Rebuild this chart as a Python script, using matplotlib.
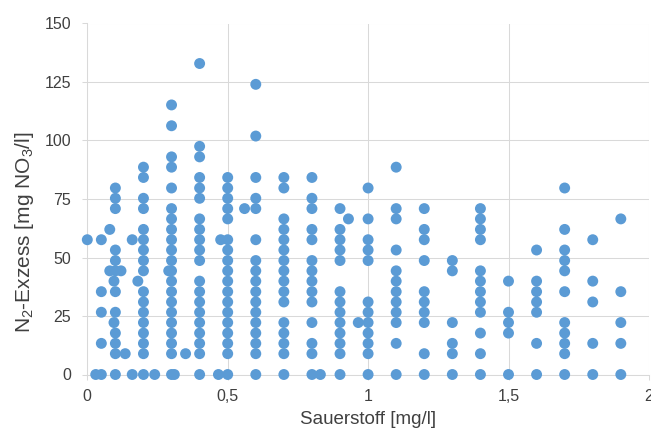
import matplotlib
matplotlib.use("Agg")
import matplotlib.pyplot as plt

plt.rcParams['font.family'] = ['Liberation Sans', 'DejaVu Sans']
plt.rcParams['mathtext.fontset'] = 'custom'
plt.rcParams['mathtext.rm'] = 'Liberation Sans'
plt.rcParams['mathtext.it'] = 'Liberation Sans'

# Oxygen (x) positions of each column of points
oxygen_cols = [0.0, 0.03, 0.05, 0.08, 0.095, 0.1, 0.12, 0.135, 0.16, 0.18,
               0.2, 0.24, 0.29, 0.3, 0.31, 0.35, 0.4, 0.467, 0.475, 0.5,
               0.56, 0.6, 0.7, 0.8, 0.83, 0.9, 0.93, 0.965, 1.0, 1.1,
               1.2, 1.3, 1.4, 1.5, 1.6, 1.7, 1.8, 1.9]

# N2 excess values (mg NO3/l) for each column
excess_cols = [
    [57.6],
    [0],
    [57.6, 35.4, 26.6, 13.3, 0],
    [62.0, 44.3],
    [39.9, 22.2],
    [79.7, 75.3, 70.9, 53.2, 48.7, 44.3, 35.4, 26.6, 17.7, 13.3, 8.9, 0],
    [44.3],
    [8.9],
    [57.6, 0],
    [39.9],
    [88.6, 84.2, 75.3, 70.9, 62.0, 57.6, 53.2, 48.7, 44.3, 35.4, 31.0, 26.6,
     22.2, 17.7, 13.3, 8.9, 0],
    [0],
    [44.3],
    [115.2, 106.3, 93.0, 88.6, 79.7, 70.9, 66.5, 62.0, 57.6, 53.2, 48.7, 44.3,
     39.9, 35.4, 31.0, 26.6, 22.2, 17.7, 13.3, 8.9, 0],
    [0],
    [8.9],
    [132.9, 97.5, 93.0, 84.2, 79.7, 75.3, 66.5, 62.0, 57.6, 53.2, 48.7, 39.9,
     35.4, 31.0, 26.6, 22.2, 17.7, 13.3, 8.9, 0],
    [0],
    [57.6],
    [84.2, 79.7, 75.3, 70.9, 66.5, 57.6, 53.2, 48.7, 44.3, 39.9, 35.4, 31.0,
     26.6, 22.2, 17.7, 13.3, 8.9, 0],
    [70.9],
    [124.0, 101.9, 84.2, 75.3, 70.9, 57.6, 48.7, 44.3, 39.9, 35.4, 31.0, 26.6,
     22.2, 17.7, 13.3, 8.9, 0],
    [84.2, 79.7, 66.5, 62.0, 57.6, 53.2, 48.7, 44.3, 39.9, 35.4, 31.0, 22.2,
     17.7, 13.3, 8.9, 0],
    [84.2, 75.3, 70.9, 62.0, 57.6, 48.7, 44.3, 39.9, 35.4, 31.0, 22.2, 13.3,
     8.9, 0],
    [0],
    [70.9, 62.0, 57.6, 53.2, 48.7, 35.4, 31.0, 26.6, 22.2, 17.7, 13.3, 8.9, 0],
    [66.5],
    [22.2],
    [79.7, 66.5, 57.6, 53.2, 48.7, 31.0, 26.6, 22.2, 17.7, 13.3, 8.9, 0],
    [88.6, 70.9, 66.5, 53.2, 44.3, 39.9, 35.4, 31.0, 26.6, 22.2, 13.3, 0],
    [70.9, 62.0, 57.6, 48.7, 35.4, 31.0, 26.6, 22.2, 8.9, 0],
    [48.7, 44.3, 22.2, 13.3, 8.9, 0],
    [70.9, 66.5, 62.0, 57.6, 44.3, 39.9, 35.4, 31.0, 26.6, 17.7, 8.9, 0],
    [39.9, 26.6, 22.2, 17.7, 0],
    [53.2, 39.9, 35.4, 31.0, 26.6, 13.3, 0],
    [79.7, 62.0, 53.2, 48.7, 44.3, 35.4, 22.2, 17.7, 13.3, 8.9, 0],
    [57.6, 39.9, 31.0, 13.3, 0],
    [66.5, 35.4, 22.2, 13.3, 0],
]

x_ticks = [0, 0.5, 1, 1.5, 2]
x_tick_labels = ["0", "0,5", "1", "1,5", "2"]
y_ticks = [0, 25, 50, 75, 100, 125, 150]
y_tick_labels = ["0", "25", "50", "75", "100", "125", "150"]

xs, ys = [], []
for xv, col in zip(oxygen_cols, excess_cols):
    for yv in col:
        xs.append(xv)
        ys.append(yv)

W, H = 651, 429
fig = plt.figure(figsize=(W / 100, H / 100), dpi=100)
ax = fig.add_axes([87.3 / W, (H - 374.5) / H, (648.9 - 87.3) / W, 351 / H])

grid_c = '#D9D9D9'
text_c = '#404040'

ax.scatter(xs, ys, s=62, color='#5B9BD5', edgecolors='none', zorder=3, clip_on=False)

ax.set_xlim(0, 2)
ax.set_ylim(0, 150)
ax.set_xticks(x_ticks)
ax.set_xticklabels(x_tick_labels)
ax.set_yticks(y_ticks)
ax.set_yticklabels(y_tick_labels)
ax.grid(True, color=grid_c, linewidth=0.75, zorder=0)
ax.set_axisbelow(True)
for s in ['top', 'right']:
    ax.spines[s].set_visible(False)
for s in ['left', 'bottom']:
    ax.spines[s].set_color(grid_c)
    ax.spines[s].set_linewidth(0.75)
ax.tick_params(axis='both', colors=grid_c, length=3.6, width=0.75,
               labelcolor=text_c, labelsize=11.5)
ax.tick_params(axis='y', pad=8)
ax.tick_params(axis='x', pad=6.5)

fig.text(25 / W, 1 - 232 / H, r'N$_\mathregular{2}$-Exzess [mg NO$_\mathregular{3}$/l]',
         rotation=90, ha='center', va='center', fontsize=15, color=text_c)
fig.text(368.5 / W, 1 - 419 / H, 'Sauerstoff [mg/l]', ha='center', va='center',
         fontsize=13.5, color=text_c)

fig.savefig('out.png', dpi=100)
